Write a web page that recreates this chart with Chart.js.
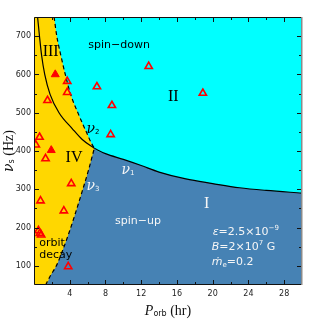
<!DOCTYPE html>
<html>
<head>
<meta charset="utf-8">
<script src="https://cdn.jsdelivr.net/npm/chart.js@4.4.0/dist/chart.umd.min.js"></script>
<style>
  html, body { margin: 0; padding: 0; background: #fff; }
</style>
</head>
<body>
<canvas id="chart" width="319" height="319"></canvas>
<script>
// nu_1 (solid), left branch: top edge down to the crossing point
const nu1LeftP  = [0.4, 0.6, 0.85, 1.2, 1.8, 2.8, 4.3, 5.4, 6.75];
const nu1LeftNu = [750, 703, 650, 600, 548, 500, 458, 430, 407];
// nu_1, right branch (upper edge of region I)
const nu1RightP  = [6.75, 8, 10, 12, 14, 17, 20, 23, 26, 30];
const nu1RightNu = [407, 393, 378, 362, 345, 327, 315, 304, 297, 290];
// nu_2 (dashed), top edge down to the crossing point
const nu2P  = [2.25, 2.55, 3.0, 3.5, 4.1, 5.0, 5.85, 6.37, 6.75];
const nu2Nu = [750, 700, 650, 600, 548, 495, 450, 423, 407];
// nu_3 (dashed), bottom edge up to the crossing point
const nu3P  = [1.3, 1.85, 2.5, 3.2, 3.9, 4.6, 5.4, 6.1, 6.75];
const nu3Nu = [50, 75, 100, 140, 185, 235, 295, 350, 407];

// observed systems
const openP  = [3.72, 3.72, 1.51, 7.04, 8.72, 12.84, 8.58, 18.9, 0.62, 0.2, 1.29, 4.17, 0.73, 3.34, 0.5, 0.65, 0.8, 3.83];
const openNu = [582, 553, 532, 568, 519, 621, 443, 551, 436, 416, 380, 315, 270, 244, 192, 185, 181, 98];
const filledP  = [2.38, 1.93];
const filledNu = [600, 402];

const xTicks = [4, 8, 12, 16, 20, 24, 28];
const yTicks = [100, 200, 300, 400, 500, 600, 700];

const pts = (xs, ys) => xs.map((x, i) => ({ x: x, y: ys[i] }));

const GOLD = '#ffd700';
const CYAN = '#00ffff';
const STEEL = '#4682b4';

// background of the plot = region I colour
const areaBg = {
  id: 'areaBg',
  beforeDatasetsDraw(chart) {
    const a = chart.chartArea, ctx = chart.ctx;
    ctx.save();
    ctx.fillStyle = STEEL;
    ctx.fillRect(a.left, a.top, a.right - a.left, a.bottom - a.top);
    ctx.restore();
  }
};

function drawRuns(ctx, x, y, runs, align) {
  let w = 0;
  runs.forEach(r => { ctx.font = r[1]; w += ctx.measureText(r[0]).width; });
  let cx = align === 'center' ? x - w / 2 : x;
  runs.forEach(r => {
    ctx.font = r[1];
    ctx.fillText(r[0], cx, y + (r[2] || 0));
    cx += ctx.measureText(r[0]).width;
  });
}

const frame = {
  id: 'frame',
  afterDatasetsDraw(chart) {
    const a = chart.chartArea, ctx = chart.ctx;
    const sx = chart.scales.x, sy = chart.scales.y;
    ctx.save();
    // inward ticks on all four sides
    ctx.strokeStyle = '#111';
    ctx.lineWidth = 1;
    ctx.beginPath();
    for (let v = 2; v < 30; v += 2) {
      const len = xTicks.includes(v) ? 5 : 3;
      const X = Math.round(sx.getPixelForValue(v)) + 0.5;
      ctx.moveTo(X, a.bottom); ctx.lineTo(X, a.bottom - len);
      ctx.moveTo(X, a.top); ctx.lineTo(X, a.top + len);
    }
    for (let v = 100; v < 750; v += 50) {
      const len = yTicks.includes(v) ? 5 : 3;
      const Y = Math.round(sy.getPixelForValue(v)) + 0.5;
      ctx.moveTo(a.left, Y); ctx.lineTo(a.left + len, Y);
      ctx.moveTo(a.right, Y); ctx.lineTo(a.right - len, Y);
    }
    ctx.stroke();
    // frame
    ctx.beginPath();
    ctx.moveTo(a.right, a.top + 0.5);
    ctx.lineTo(a.left + 0.5, a.top + 0.5);
    ctx.lineTo(a.left + 0.5, a.bottom - 0.5);
    ctx.lineTo(a.right, a.bottom - 0.5);
    ctx.stroke();
    ctx.strokeStyle = '#8a8a8a';
    ctx.lineWidth = 1.5;
    ctx.beginPath();
    ctx.moveTo(a.right - 0.25, a.top);
    ctx.lineTo(a.right - 0.25, a.bottom);
    ctx.stroke();

    // labels inside the plot
    const X = v => sx.getPixelForValue(v), Y = v => sy.getPixelForValue(v);
    const sans = '11px "DejaVu Sans"';
    const ital = 'italic 11px "DejaVu Sans"';
    const small = '7px "DejaVu Sans"';
    const roman = '16px "Liberation Serif"';
    const nu = 'italic 14px "DejaVu Serif"';
    ctx.textBaseline = 'middle';
    ctx.fillStyle = '#000';
    drawRuns(ctx, X(9.52), Y(677), [['spin\u2212down', sans]], 'center');
    drawRuns(ctx, X(15.6), Y(542), [['II', roman]], 'center');
    drawRuns(ctx, X(1.87), Y(659), [['III', roman]], 'center');
    drawRuns(ctx, X(4.48), Y(383), [['IV', roman]], 'center');
    drawRuns(ctx, X(0.59), Y(159), [['orbit', sans]], 'left');
    drawRuns(ctx, X(0.59), Y(128), [['decay', sans]], 'left');
    drawRuns(ctx, X(6.6), Y(457), [['\u03bd', nu], ['2', small, 3]], 'center');
    ctx.fillStyle = '#f6f6f6';
    drawRuns(ctx, X(10.52), Y(350), [['\u03bd', nu], ['1', small, 3]], 'center');
    drawRuns(ctx, X(6.6), Y(307), [['\u03bd', nu], ['3', small, 3]], 'center');
    drawRuns(ctx, X(11.64), Y(217), [['spin\u2212up', sans]], 'center');
    drawRuns(ctx, X(19.33), Y(263), [['I', roman]], 'center');
    drawRuns(ctx, X(20.0), Y(189), [['\u03b5', ital], ['=2.5\u00d710', sans], ['\u22129', small, -4]], 'left');
    drawRuns(ctx, X(19.9), Y(148), [['B', ital], ['=2\u00d710', sans], ['7', small, -4], [' G', sans]], 'left');
    drawRuns(ctx, X(19.9), Y(109), [['\u1e41', ital], ['e', small, 3], ['=0.2', sans]], 'left');

    // axis titles
    ctx.fillStyle = '#111';
    drawRuns(ctx, (a.left + a.right) / 2, 311, [['P', 'italic 14px "Liberation Serif"'], ['orb', '8px "DejaVu Sans"', 3], [' (hr)', '14px "Liberation Serif"']], 'center');
    ctx.translate(9, (a.top + a.bottom) / 2);
    ctx.rotate(-Math.PI / 2);
    drawRuns(ctx, 0, 0, [['\u03bd', 'italic 14px "DejaVu Serif"'], ['s', '8px "DejaVu Sans"', 3], [' (Hz)', '14px "Liberation Serif"']], 'center');
    ctx.restore();
  }
};

const dash = [4, 3];
const curve = (data, dashed, order) => ({
  data: data,
  showLine: true,
  fill: false,
  borderColor: '#000',
  borderWidth: 1.2,
  borderDash: dashed ? dash : [],
  pointRadius: 0,
  cubicInterpolationMode: 'monotone',
  order: order
});
const region = (data, color, order) => ({
  data: data,
  showLine: true,
  fill: 'end',
  backgroundColor: color,
  borderWidth: 0,
  borderColor: 'rgba(0,0,0,0)',
  pointRadius: 0,
  cubicInterpolationMode: 'monotone',
  order: order
});

new Chart(document.getElementById('chart'), {
  type: 'scatter',
  data: {
    datasets: [
      // yellow: everything left of nu_3 (cyan covers the part above nu_2)
      region([{ x: 0, y: 50 }].concat(pts(nu3P, nu3Nu)), GOLD, 9),
      // cyan: above nu_2 and the right branch of nu_1
      region(pts(nu2P, nu2Nu).concat(pts(nu1RightP.slice(1), nu1RightNu.slice(1))), CYAN, 8),
      curve(pts(nu3P, nu3Nu), true, 5),
      curve(pts(nu2P, nu2Nu), true, 5),
      curve(pts(nu1LeftP, nu1LeftNu), false, 5),
      curve(pts(nu1RightP, nu1RightNu), false, 5),
      {
        data: pts(openP, openNu),
        pointStyle: 'triangle',
        pointRadius: 4.2,
        borderColor: '#ff0000',
        borderWidth: 1.6,
        backgroundColor: 'rgba(0,0,0,0)',
        order: 2
      },
      {
        data: pts(filledP, filledNu),
        pointStyle: 'triangle',
        pointRadius: 4.6,
        borderColor: '#ff0000',
        borderWidth: 1,
        backgroundColor: '#ff0000',
        order: 1
      }
    ]
  },
  options: {
    responsive: false,
    devicePixelRatio: 1,
    animation: false,
    events: [],
    layout: { padding: { top: 17, right: 17, left: 0, bottom: 0 } },
    plugins: { legend: { display: false }, tooltip: { enabled: false } },
    scales: {
      x: {
        type: 'linear',
        min: 0,
        max: 30,
        afterBuildTicks: s => { s.ticks = xTicks.map(v => ({ value: v })); },
        afterFit: s => { s.height = 34; },
        grid: { display: false, drawTicks: false },
        border: { display: false },
        ticks: { color: '#222', font: { family: 'DejaVu Sans', size: 8 }, padding: 4, maxRotation: 0, autoSkip: false }
      },
      y: {
        type: 'linear',
        min: 50,
        max: 750,
        afterBuildTicks: s => { s.ticks = yTicks.map(v => ({ value: v })); },
        afterFit: s => { s.width = 34; },
        grid: { display: false, drawTicks: false },
        border: { display: false },
        ticks: { color: '#222', font: { family: 'DejaVu Sans', size: 8 }, padding: 3, autoSkip: false }
      }
    }
  },
  plugins: [areaBg, frame]
});
</script>
</body>
</html>
